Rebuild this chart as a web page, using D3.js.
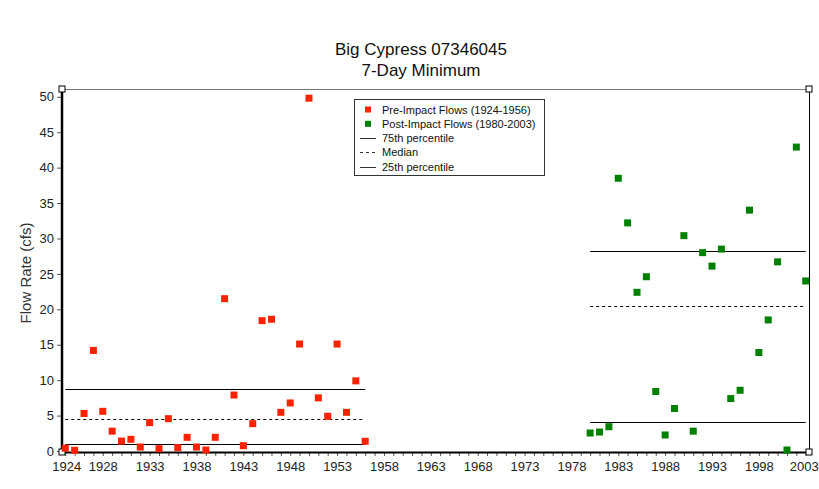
<!DOCTYPE html>
<html>
<head>
<meta charset="utf-8">
<script src="https://cdn.jsdelivr.net/npm/d3@7"></script>
<style>
  body { margin: 0; background: #fff; }
  text { font-family: "Liberation Sans", Arial, sans-serif; }
</style>
</head>
<body>
<div id="chart"></div>
<script>
var width = 819;
var height = 489;

// pre-impact flows 1924-1956
var preYears = d3.range(1924, 1957);
var preFlows = [0.4, 0.1, 5.3, 14.2, 5.6, 2.8, 1.4, 1.65, 0.56, 4.0, 0.33, 4.56, 0.47, 1.93, 0.56, 0.14,
  1.93, 21.5, 7.9, 0.75, 3.86, 18.4, 18.6, 5.46, 6.78, 15.1, 49.8, 7.5, 4.9, 15.1, 5.46, 9.9, 1.37];
var prePct = [8.8, 4.5, 0.95]; // 75th, median, 25th

// post-impact flows 1980-2003
var postYears = d3.range(1980, 2004);
var postFlows = [2.54, 2.68, 3.43, 38.5, 32.2, 22.4, 24.6, 8.4, 2.26, 6.0, 30.4, 2.8,
  28.0, 26.1, 28.5, 7.4, 8.57, 34.0, 13.9, 18.5, 26.7, 0.14, 42.9, 24.0];
var postPct = [28.2, 20.5, 4.1];

var yearLabels = [1924, 1928, 1933, 1938, 1943, 1948, 1953, 1958, 1963, 1968, 1973, 1978, 1983, 1988, 1993, 1998, 2003];
var flowTicks = d3.range(0, 51, 5);

var legendItems = ["Pre-Impact Flows (1924-1956)", "Post-Impact Flows (1980-2003)", "75th percentile", "Median", "25th percentile"];

var pL = 62, pR = 809, pT = 89, pB = 452;

var x = d3.scaleLinear().domain([1923.65, 2003.35]).range([pL, pR]);
var y = d3.scaleLinear().domain([0, 51.1]).range([451, pT]);

var svg = d3.select("#chart").append("svg")
  .attr("width", width)
  .attr("height", height);

// title
svg.append("text").attr("x", 421).attr("y", 55).attr("text-anchor", "middle")
  .style("font-size", "17px").attr("fill", "#111").text("Big Cypress 07346045");
svg.append("text").attr("x", 421).attr("y", 76).attr("text-anchor", "middle")
  .style("font-size", "17px").attr("fill", "#111").text("7-Day Minimum");

// frame top/right
svg.append("line").attr("x1", pL).attr("x2", pR).attr("y1", pT + 0.5).attr("y2", pT + 0.5)
  .attr("stroke", "#777").attr("stroke-width", 1);
svg.append("line").attr("x1", pR + 0.5).attr("x2", pR + 0.5).attr("y1", pT).attr("y2", pB)
  .attr("stroke", "#000").attr("stroke-width", 1);

// y axis
var yAxis = svg.append("g").attr("transform", "translate(" + pL + ",0)")
  .call(d3.axisLeft(y).tickValues(flowTicks).tickSize(5).tickPadding(3));
yAxis.select(".domain").remove();
yAxis.selectAll(".tick line").attr("stroke", "#555");
yAxis.selectAll("text").style("font-size", "13px").attr("fill", "#222");
svg.append("line").attr("x1", pL).attr("x2", pL).attr("y1", pT).attr("y2", pB + 1)
  .attr("stroke", "#000").attr("stroke-width", 2.5);

// x axis
var xAxis = svg.append("g").attr("transform", "translate(0," + pB + ")")
  .call(d3.axisBottom(x).tickValues(d3.range(1924, 2004)).tickSize(4).tickFormat(""));
xAxis.select(".domain").remove();
xAxis.selectAll(".tick line").attr("stroke", "#555");
var xLab = svg.append("g").attr("transform", "translate(0," + pB + ")")
  .call(d3.axisBottom(x).tickValues(yearLabels).tickSize(0).tickPadding(10).tickFormat(d3.format("d")));
xLab.select(".domain").remove();
xLab.selectAll("text").style("font-size", "13px").attr("fill", "#222")
  .attr("dx", function(d) { return d == 2003 ? -2 : (d == 1924 ? 1 : 0); });
svg.append("line").attr("x1", pL).attr("x2", pR).attr("y1", pB + 0.5).attr("y2", pB + 0.5)
  .attr("stroke", "#000").attr("stroke-width", 2);

// corner squares
[[pL, pT], [pL, pB], [pR, pB], [pR, pT]].forEach(function(c) {
  svg.append("rect").attr("x", c[0] - 3).attr("y", c[1] - 3).attr("width", 6).attr("height", 6)
    .attr("fill", "#fff").attr("stroke", "#000").attr("stroke-width", 1);
});

// y label
svg.append("text").attr("transform", "translate(31,273) rotate(-90)")
  .attr("text-anchor", "middle").style("font-size", "15px").attr("fill", "#333")
  .text("Flow Rate (cfs)");

// percentile lines
function pctLines(pcts, years) {
  var x1 = x(years[0]), x2 = x(years[years.length - 1]);
  pcts.forEach(function(v, i) {
    svg.append("line").attr("x1", x1).attr("x2", x2)
      .attr("y1", Math.round(y(v)) + 0.5).attr("y2", Math.round(y(v)) + 0.5)
      .attr("stroke", "#000").attr("stroke-width", 1)
      .attr("stroke-dasharray", i == 1 ? "3,3" : null);
  });
}
pctLines(prePct, preYears);
pctLines(postPct, postYears);

// points
var s = 7;
svg.append("g").selectAll("rect").data(preFlows).enter().append("rect")
  .attr("x", function(d, i) { return x(preYears[i]) - s / 2; })
  .attr("y", function(d) { return y(d) - s / 2; })
  .attr("width", s).attr("height", s).attr("fill", "#ff2200");
svg.append("g").selectAll("rect").data(postFlows).enter().append("rect")
  .attr("x", function(d, i) { return x(postYears[i]) - s / 2; })
  .attr("y", function(d) { return y(d) - s / 2; })
  .attr("width", s).attr("height", s).attr("fill", "#008000");

// legend
var lg = svg.append("g").attr("transform", "translate(354,99)");
lg.append("rect").attr("x", 0.5).attr("y", 0.5).attr("width", 190).attr("height", 76)
  .attr("fill", "#fff").attr("stroke", "#333").attr("stroke-width", 1);
legendItems.forEach(function(t, i) {
  var cy = 10.5 + i * 14.3;
  if (i < 2) {
    lg.append("rect").attr("x", 11).attr("y", cy - 3).attr("width", 6).attr("height", 6)
      .attr("fill", i == 0 ? "#ff2200" : "#008000");
  } else {
    lg.append("line").attr("x1", 6).attr("x2", 22).attr("y1", Math.round(cy) + 0.5).attr("y2", Math.round(cy) + 0.5)
      .attr("stroke", "#333").attr("stroke-dasharray", i == 3 ? "3,3" : null);
  }
  lg.append("text").attr("x", 28).attr("y", cy + 4).style("font-size", "11px").attr("fill", "#111").text(t);
});
</script>
</body>
</html>
